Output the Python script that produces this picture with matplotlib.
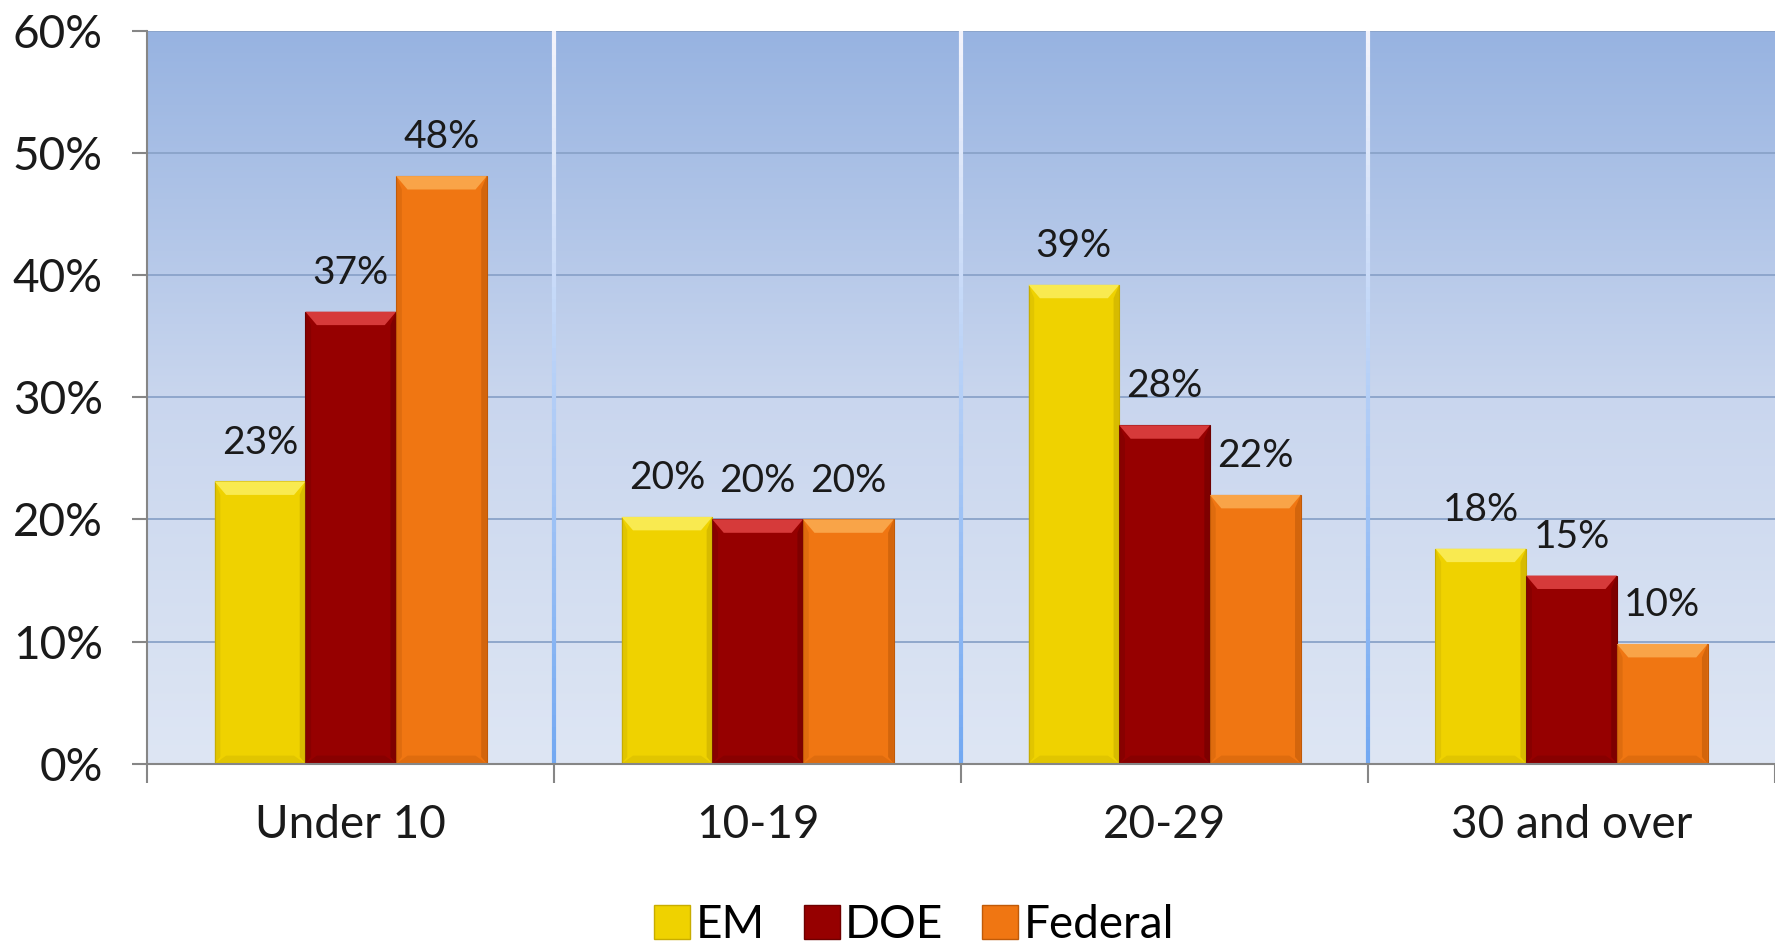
import numpy as np
import matplotlib
matplotlib.use("Agg")
import matplotlib.pyplot as plt
from matplotlib.patches import Polygon, Patch
from matplotlib.colors import LinearSegmentedColormap, to_rgb

categories = ["Under 10", "10-19", "20-29", "30 and over"]
series_names = ["EM", "DOE", "Federal"]
em_values = [23.1, 20.2, 39.2, 17.6]
doe_values = [37.0, 20.0, 27.7, 15.4]
federal_values = [48.1, 20.0, 22.0, 9.8]
yticks = [0, 10, 20, 30, 40, 50, 60]

series = [em_values, doe_values, federal_values]
colors = ["#efd200", "#960000", "#f07612"]
top_colors = ["#f9ea50", "#d63a3a", "#f9a448"]
side_dark = ["#c8ad00", "#6e0000", "#c05a08"]

plt.rcParams['font.family'] = ['Lato', 'DejaVu Sans']

fig = plt.figure(figsize=(17.75, 9.44), dpi=100)
ax = fig.add_axes([0.083, 0.191, 0.917, 0.7765])

ax.set_xlim(-0.5, len(categories) - 0.5)
ax.set_ylim(0, 60)

# background gradient
grad = np.linspace(0, 1, 256).reshape(-1, 1)
cmap_bg = LinearSegmentedColormap.from_list("bg", ["#dee6f4", "#c9d6ee", "#97b3e1"])
ax.imshow(grad, extent=[-0.5, len(categories) - 0.5, 0, 60], origin="lower",
          aspect="auto", cmap=cmap_bg, zorder=0)

# horizontal gridlines
for t in yticks[1:]:
    ax.axhline(t, color="#8aa3c9", lw=1.3, zorder=1)

# vertical dividers with gradient (white at top to light blue at bottom)
cw = to_rgb("#f4f4fb")
cb = to_rgb("#72a8f2")
nseg = 60
for k in range(1, len(categories)):
    xk = k - 0.5
    ys = np.linspace(0, 60, nseg + 1)
    for i in range(nseg):
        f = (ys[i] + ys[i + 1]) / 2 / 60
        c = tuple(cb[j] + (cw[j] - cb[j]) * f for j in range(3))
        ax.plot([xk, xk], [ys[i], ys[i + 1]], color=c, lw=3, solid_capstyle="butt", zorder=1.5)

width = 0.223
x = np.arange(len(categories))
bx = 0.028
by = 1.1
for si, vals in enumerate(series):
    offs = (si - 1) * width
    bars = ax.bar(x + offs, vals, width, color=colors[si], zorder=3,
                  edgecolor=side_dark[si], linewidth=0.8)
    for xi, v in zip(x, vals):
        x0 = xi + offs - width / 2
        x1 = xi + offs + width / 2
        # top bevel
        ax.add_patch(Polygon([[x0, v], [x1, v], [x1 - bx, v - by], [x0 + bx, v - by]],
                             closed=True, facecolor=top_colors[si], edgecolor="none", zorder=4))
        # right side shade
        ax.add_patch(Polygon([[x1, v], [x1, 0], [x1 - bx * 0.5, by * 0.5], [x1 - bx * 0.5, v - by]],
                             closed=True, facecolor=side_dark[si], edgecolor="none", alpha=0.6, zorder=4))
        # left side shade
        ax.add_patch(Polygon([[x0, v], [x0, 0], [x0 + bx * 0.5, by * 0.5], [x0 + bx * 0.5, v - by]],
                             closed=True, facecolor=side_dark[si], edgecolor="none", alpha=0.35, zorder=4))
        # bottom bevel
        ax.add_patch(Polygon([[x0, 0], [x1, 0], [x1 - bx, by * 0.6], [x0 + bx, by * 0.6]],
                             closed=True, facecolor=side_dark[si], edgecolor="none", alpha=0.35, zorder=4))
        ax.annotate(f"{round(v):d}%", (xi + offs, v), xytext=(0, 15), textcoords="offset points",
                    ha="center", va="bottom", fontsize=28, color="#1a1a1a", zorder=5)

# axes styling
for s in ["top", "right"]:
    ax.spines[s].set_visible(False)
for s in ["left", "bottom"]:
    ax.spines[s].set_color("#868686")
    ax.spines[s].set_linewidth(1.5)
    ax.spines[s].set_zorder(6)

ax.set_yticks(yticks)
ax.set_yticklabels([f"{t}%" for t in yticks], fontsize=33, color="#1a1a1a")
ax.tick_params(axis="y", length=11, width=1.5, color="#868686", pad=21)

ax.set_xticks(np.arange(-0.5, len(categories) + 0.5, 1.0))
ax.set_xticklabels([])
ax.tick_params(axis="x", length=14, width=1.5, color="#868686")
ax.set_xticks(x, minor=True)
ax.set_xticklabels(categories, minor=True, fontsize=33, color="#1a1a1a")
ax.tick_params(axis="x", which="minor", length=0, pad=29)

handles = [Patch(facecolor=colors[i], edgecolor=side_dark[i], label=series_names[i]) for i in range(3)]
fig.legend(handles=handles, loc="center", bbox_to_anchor=(0.515, 0.02), ncol=3, frameon=False,
           fontsize=33, handlelength=0.78, handleheight=0.78, handletextpad=0.12, columnspacing=0.85)

fig.savefig("out.png", dpi=100)
